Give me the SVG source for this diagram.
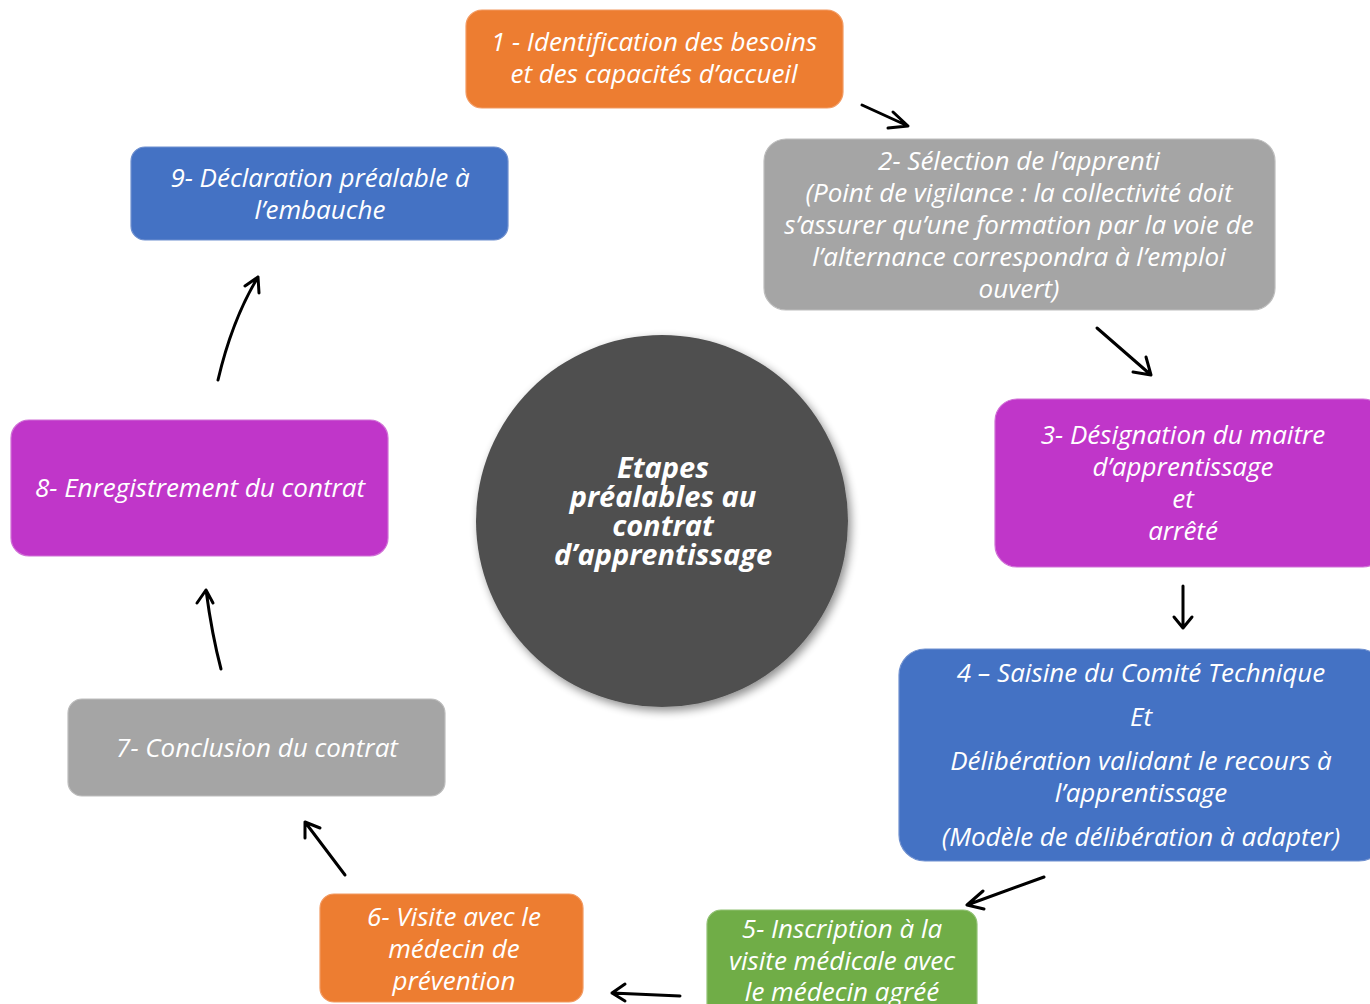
<svg xmlns="http://www.w3.org/2000/svg" width="1370" height="1004" viewBox="0 0 1370 1004">
<defs>
<style>
.box{stroke-width:1.2}
.t{font-family:"Open Sans","Liberation Sans",sans-serif;font-style:italic;font-size:26px;fill:#ffffff;text-anchor:middle}
.c{font-family:"Open Sans","Liberation Sans",sans-serif;font-style:italic;font-weight:bold;font-size:29px;fill:#ffffff;text-anchor:middle}
.orange{fill:#ED7D31;stroke:#F29A62}
.gray{fill:#A5A5A5;stroke:#BDBDBD}
.mag{fill:#C036C9;stroke:#D070D6}
.blue{fill:#4472C4;stroke:#6F90CF}
.green{fill:#70AD47;stroke:#92C275}
.arr{fill:none;stroke:#000000;stroke-width:3;stroke-linecap:round;stroke-linejoin:round}
</style>
<filter id="sh" x="-20%" y="-20%" width="150%" height="150%">
<feGaussianBlur in="SourceAlpha" stdDeviation="5"/>
<feOffset dx="3" dy="4" result="b"/>
<feComponentTransfer><feFuncA type="linear" slope="0.45"/></feComponentTransfer>
<feMerge><feMergeNode/><feMergeNode in="SourceGraphic"/></feMerge>
</filter>
</defs>
<rect width="1370" height="1004" fill="#ffffff"/>

<g id="center">
<circle cx="662" cy="521" r="186" fill="#505050" filter="url(#sh)"/>
<text class="c" x="663" y="478">Etapes</text>
<text class="c" x="663" y="507">préalables au</text>
<text class="c" x="663" y="536">contrat</text>
<text class="c" x="663" y="565">d’apprentissage</text>
</g>

<g id="n1">
<rect class="box orange" x="466" y="10" width="377" height="98" rx="16"/>
<text class="t" x="654" y="51">1 - Identification des besoins</text>
<text class="t" x="654" y="83">et des capacités d’accueil</text>
</g>

<g id="n2">
<rect class="box gray" x="764" y="139" width="511" height="171" rx="22"/>
<text class="t" x="1019" y="170">2- Sélection de l’apprenti</text>
<text class="t" x="1019" y="202">(Point de vigilance : la collectivité doit</text>
<text class="t" x="1019" y="234">s’assurer qu’une formation par la voie de</text>
<text class="t" x="1019" y="266">l’alternance correspondra à l’emploi</text>
<text class="t" x="1019" y="298">ouvert)</text>
</g>

<g id="n3">
<rect class="box mag" x="995" y="399" width="390" height="168" rx="22"/>
<text class="t" x="1183" y="444">3- Désignation du maitre</text>
<text class="t" x="1183" y="476">d’apprentissage</text>
<text class="t" x="1183" y="508">et</text>
<text class="t" x="1183" y="540">arrêté</text>
</g>

<g id="n4">
<rect class="box blue" x="899" y="649" width="486" height="212" rx="26"/>
<text class="t" x="1141" y="682">4 – Saisine du Comité Technique</text>
<text class="t" x="1141" y="726">Et</text>
<text class="t" x="1141" y="770">Délibération validant le recours à</text>
<text class="t" x="1141" y="802">l’apprentissage</text>
<text class="t" x="1141" y="846">(Modèle de délibération à adapter)</text>
</g>

<g id="n5">
<rect class="box green" x="707" y="910" width="270" height="110" rx="14"/>
<text class="t" x="842" y="938">5- Inscription à la</text>
<text class="t" x="842" y="970">visite médicale avec</text>
<text class="t" x="842" y="1001">le médecin agréé</text>
</g>

<g id="n6">
<rect class="box orange" x="320" y="894" width="263" height="108" rx="14"/>
<text class="t" x="454" y="926">6- Visite avec le</text>
<text class="t" x="454" y="958">médecin de</text>
<text class="t" x="454" y="990">prévention</text>
</g>

<g id="n7">
<rect class="box gray" x="68" y="699" width="377" height="97" rx="14"/>
<text class="t" x="257" y="757">7- Conclusion du contrat</text>
</g>

<g id="n8">
<rect class="box mag" x="11" y="420" width="377" height="136" rx="18"/>
<text class="t" x="200" y="497">8- Enregistrement du contrat</text>
</g>

<g id="n9">
<rect class="box blue" x="131" y="147" width="377" height="93" rx="14"/>
<text class="t" x="320" y="187">9- Déclaration préalable à</text>
<text class="t" x="320" y="219">l’embauche</text>
</g>

<g id="connectors">
<path class="arr" d="M862 105 L908 126 M893 112 L908 126 L888 128"/>
<path class="arr" d="M1097 328 L1151 375 M1146 357 L1151 375 L1133 372"/>
<path class="arr" d="M1183 586 L1183 628 M1174 617 L1183 628 L1192 617"/>
<path class="arr" d="M1044 877 L967 905 M983 891 L967 905 L984 909"/>
<path class="arr" d="M680 996 L612 993 M625 984 L612 993 L625 1001"/>
<path class="arr" d="M345 875 L305 822 M305 838 L305 822 L320 828"/>
<path class="arr" d="M221 669 Q212 635 206 590 M197 603 L206 590 L213 603"/>
<path class="arr" d="M218 380 Q232 320 258 277 M245 286 L258 277 L259 293"/>
</g>
</svg>
